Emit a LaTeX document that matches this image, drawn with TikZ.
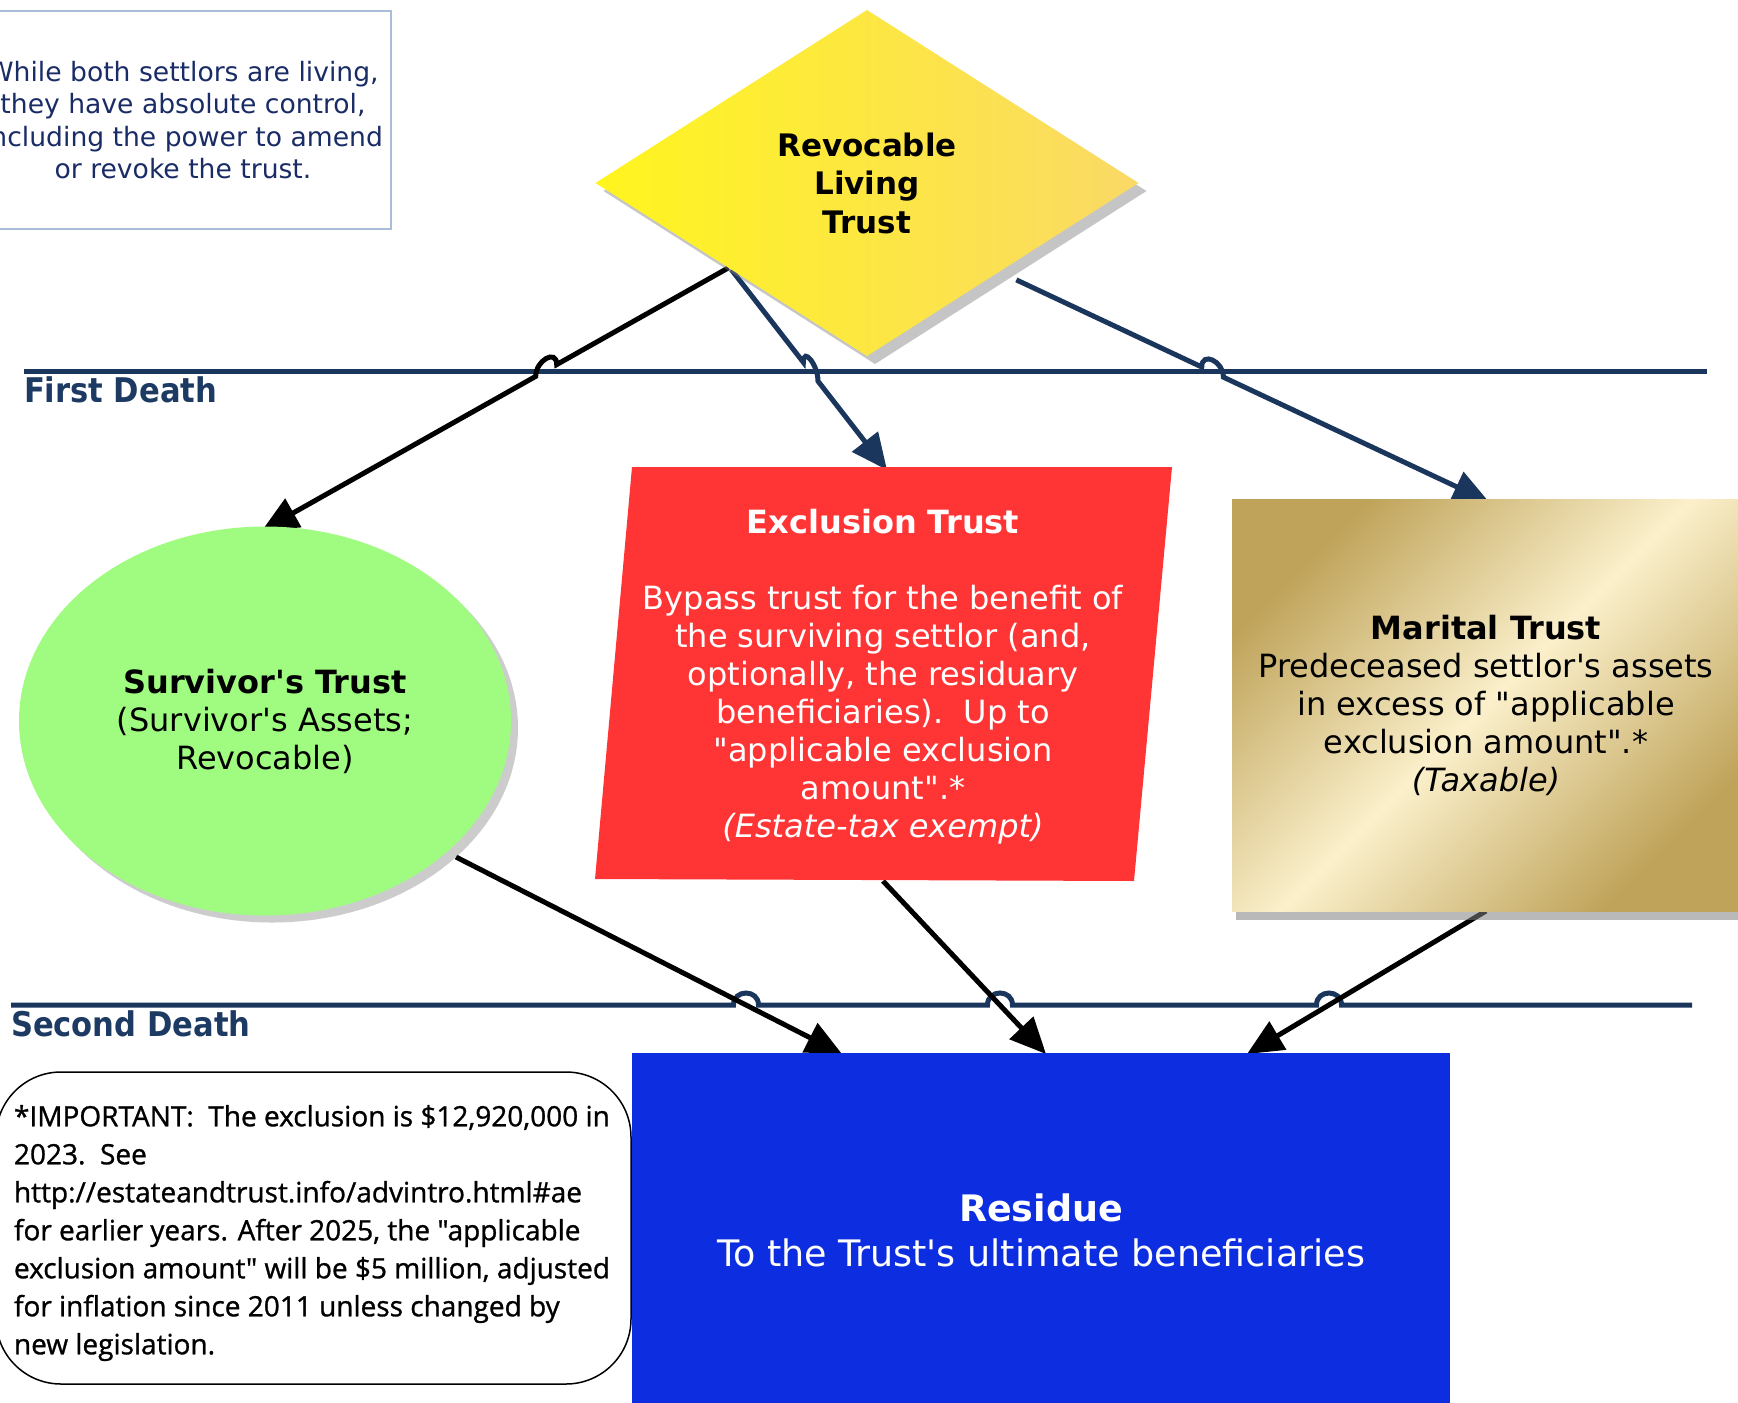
\documentclass[tikz,border=0pt]{standalone}
\usepackage{fontspec}
\setmainfont{DejaVu Sans}[Ligatures=TeXOff]
\newfontfamily\notefont{Open Sans}[Ligatures=TeXOff,FakeBold=1]
\newfontfamily\labfont{DejaVu Sans}[Ligatures=TeXOff,FakeStretch=0.9]
\usetikzlibrary{shapes.geometric,arrows.meta,calc,shadows}
\pgfdeclarelayer{bg}
\pgfdeclarelayer{conn}
\pgfsetlayers{bg,conn,main}
\definecolor{navy}{HTML}{1B365D}
\definecolor{lblnavy}{HTML}{1D3A63}
\definecolor{notetext}{HTML}{1A2C66}
\definecolor{noteborder}{HTML}{A9BDD9}
\definecolor{survgreen}{HTML}{A0FC80}
\definecolor{exclred}{HTML}{FF3535}
\definecolor{resblue}{HTML}{0D2DE1}
\definecolor{golddark}{HTML}{BFA35A}
\definecolor{goldlight}{HTML}{FBF0CB}
\definecolor{diayellow}{HTML}{FFF51E}
\definecolor{diaorange}{HTML}{FAD966}
\begin{document}
\begin{tikzpicture}[x=1pt,y=-1pt,
 every node/.style={inner sep=0pt, outer sep=0pt},
 maintext/.style={font=\fontsize{32}{38}\selectfont, align=center},
 notebox/.style={draw=noteborder, line width=1.5pt, fill=white, minimum width=416pt, minimum height=218pt, text=notetext, align=center, font=\fontsize{26.6}{32.5}\selectfont},
 diabox/.style={shape=diamond, minimum width=543pt, minimum height=346pt, left color=diayellow, right color=diaorange, drop shadow={shadow xshift=8pt, shadow yshift=-8pt, opacity=0.45}, align=center, font=\fontsize{31}{38.5}\selectfont\bfseries},
 survbox/.style={ellipse, minimum width=492pt, minimum height=389pt, fill=survgreen, drop shadow={shadow xshift=7pt, shadow yshift=-7pt, opacity=0.4}, maintext},
 exclbox/.style={rectangle, minimum width=540pt, minimum height=414pt, text=white, maintext},
 marbox/.style={rectangle, minimum width=508pt, minimum height=412pt, top color=golddark, bottom color=golddark, middle color=goldlight, shading angle=45, drop shadow={shadow xshift=4pt, shadow yshift=-9pt, opacity=0.55}, maintext},
 resbox/.style={rectangle, minimum width=818pt, minimum height=354pt, fill=resblue, text=white, align=center, font=\fontsize{36.5}{45}\selectfont},
 fnbox/.style={rectangle, rounded corners=65pt, draw=black, line width=1.5pt, fill=white, minimum width=635pt, minimum height=312pt},
 fntext/.style={align=left, font=\notefont\fontsize{28}{38}\selectfont},
 deathlbl/.style={text=lblnavy, font=\labfont\bfseries\fontsize{34}{40}\selectfont, anchor=west},
 hline/.style={draw=navy, line width=5pt},
 blackconn/.style={draw=black, line width=5pt, -{Triangle[length=36pt,width=32pt]}},
 navyconn/.style={draw=navy, line width=5pt, -{Triangle[length=36pt,width=32pt]}},
]
\useasboundingbox (0,0) rectangle (1738,1403);
\begin{pgfonlayer}{bg}
\fill[white] (0,0) rectangle (1738,1403);
\end{pgfonlayer}

% nodes
\node[notebox] (note) at (183,120) {While both settlors are living,\\they have absolute control,\\including the power to amend\\or revoke the trust.};
\node[diabox] (dia) at (867,183) {Revocable\\Living\\Trust};
\node[survbox] (surv) at (265,721) {\textbf{Survivor's Trust}\\(Survivor's Assets;\\Revocable)};
\fill[exclred] (632,467) -- (1172,467) -- (1134,881) -- (595,879) -- cycle;
\node[exclbox] (excl) at (883,677) {\textbf{Exclusion Trust}\\[38pt]Bypass trust for the benefit of\\the surviving settlor (and,\\optionally, the residuary\\beneficiaries).\ \ Up to\\"applicable exclusion\\amount".*\\\textit{(Estate-tax exempt)}};
\node[marbox] (mar) at (1486,705) {\textbf{Marital Trust}\\Predeceased settlor's assets\\in excess of "applicable\\exclusion amount".*\\\textit{(Taxable)}};
\node[resbox] (res) at (1041,1230) {\textbf{Residue}\\To the Trust's ultimate beneficiaries};
\node[fnbox] (fn) at (313.5,1228) {};
\node[fntext, anchor=west] (fnt) at (14,1233) {*IMPORTANT:\ \ The exclusion is \$12,920,000 in\\2023.\ \ See\\http://estateandtrust.info/advintro.html\#ae\\for earlier years. After 2025, the "applicable\\exclusion amount" will be \$5 million, adjusted\\for inflation since 2011 unless changed by\\new legislation.};
\node[deathlbl] (fdlab) at (24,390) {First Death};
\node[deathlbl] (sdlab) at (11,1024) {Second Death};

% connector end points
\coordinate (fdl) at (24,371);
\coordinate (fdr) at (1707,371);
\coordinate (sdl) at (11,1005);
\coordinate (sdr) at (1692,1005);
\coordinate (c1s) at ($(dia.west)!0.49!(dia.south)$);
\coordinate (c1e) at ($(surv.north)+(-3,4)$);
\coordinate (c2s) at ($(dia.west)!0.5!(dia.south)$);
\coordinate (c2e) at (887,470);
\coordinate (c3s) at ($(dia.south)!0.55!(dia.east)+(0,19)$);
\coordinate (c3e) at ($(mar.north)+(3,3)$);
\coordinate (c4s) at ($(surv.center)+(191,136)$);
\coordinate (c4e) at ($(res.north west)+(210,1)$);
\coordinate (c5s) at (883,881);
\coordinate (c5e) at ($(res.north west)+(414,1)$);
\coordinate (c6s) at (mar.south);
\coordinate (c6e) at ($(res.north west)+(615,1)$);

\begin{pgfonlayer}{conn}
\draw[hline] (fdl) -- (fdr);
\draw[hline] (sdl) -- (733.5,1005) .. controls +(0,-16) and +(0,-16) .. (758.5,1005)
  -- (987.5,1005) .. controls +(0,-16) and +(0,-16) .. (1012.5,1005)
  -- (1316.5,1005) .. controls +(0,-16) and +(0,-16) .. (1341.5,1005) -- (sdr);
\draw[blackconn] (c1s) -- ($(c1s)!0.3683!(c1e)$) .. controls +(0,-16) and +(0,-16) .. ($(c1s)!0.4133!(c1e)$) -- (c1e);
\draw[navyconn] (c2s) -- ($(c2s)!0.4629!(c2e)$) .. controls +(0,-16) and +(0,-16) .. ($(c2s)!0.5569!(c2e)$) -- (c2e);
\draw[navyconn] (c3s) -- ($(c3s)!0.3923!(c3e)$) .. controls +(0,-16) and +(0,-16) .. ($(c3s)!0.4381!(c3e)$) -- (c3e);
\draw[blackconn] (c4s) -- (c4e);
\draw[blackconn] (c5s) -- (c5e);
\draw[blackconn] (c6s) -- (c6e);
\end{pgfonlayer}
\end{tikzpicture}
\end{document}
